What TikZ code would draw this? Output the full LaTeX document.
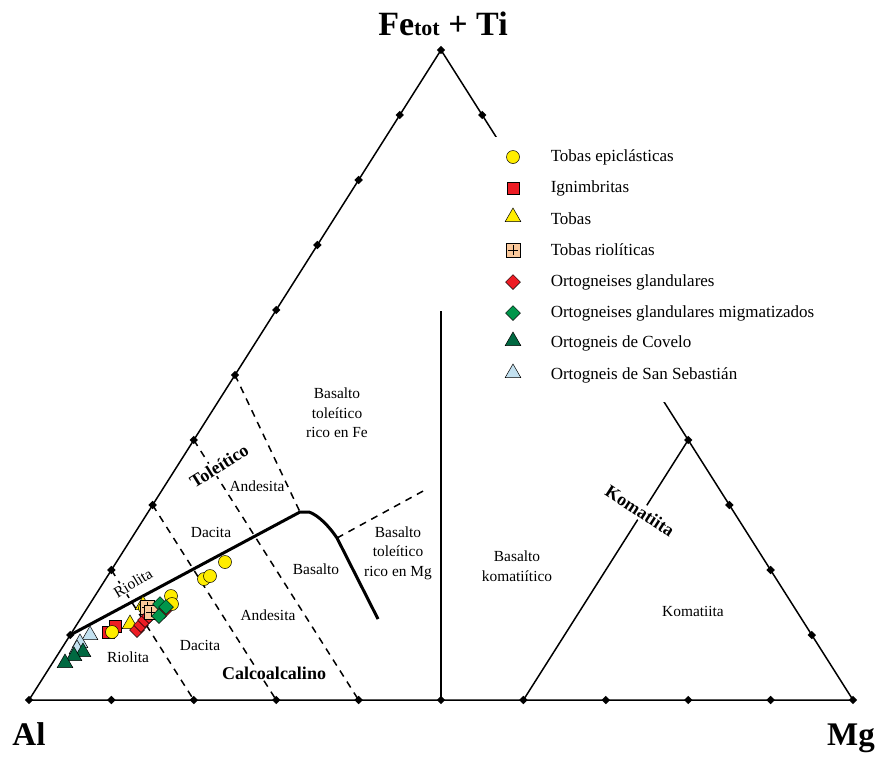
\documentclass[tikz,border=0pt]{standalone}
\usepackage{fontspec}
\setmainfont{Liberation Serif}
\usetikzlibrary{shapes.geometric}
\definecolor{tepyellow}{RGB}{255,237,0}
\definecolor{ignred}{RGB}{237,28,36}
\definecolor{peach}{RGB}{250,200,155}
\definecolor{ogmgreen}{RGB}{0,150,75}
\definecolor{ocvgreen}{RGB}{0,105,65}
\definecolor{osslblue}{RGB}{195,225,240}

\begin{document}
\begin{tikzpicture}[x=1pt, y=-1pt, line width=1.5pt,
  vtx/.style = {diamond, fill, inner sep=0pt, minimum size=9pt},
  lab/.style = {font=\fontsize{15.4}{19.5}\selectfont, align=center, inner sep=1pt},
  blab/.style = {font=\fontsize{18}{20}\selectfont\bfseries, inner sep=1pt},
  legtxt/.style = {anchor=west, inner sep=0pt, font=\fontsize{17}{19}\selectfont},
  mk/.style = {draw, line width=0.5pt, inner sep=0pt},
  tep/.style = {mk, circle, fill=tepyellow, minimum size=13pt},
  ign/.style = {mk, rectangle, fill=ignred, minimum size=12.5pt},
  tob/.style = {mk, regular polygon, regular polygon sides=3, fill=tepyellow, minimum size=18pt},
  trio/.style = {mk, rectangle, fill=peach, minimum size=14pt,
    path picture={\draw[line width=0.6pt] (path picture bounding box.center) ++(0,-5pt) -- ++(0,10pt)
      (path picture bounding box.center) ++(-5pt,0) -- ++(10pt,0);}},
  ogl/.style = {mk, diamond, fill=ignred, minimum size=15pt},
  ogm/.style = {mk, diamond, fill=ogmgreen, minimum size=15pt},
  ocv/.style = {mk, regular polygon, regular polygon sides=3, fill=ocvgreen, minimum size=18pt},
  oss/.style = {mk, regular polygon, regular polygon sides=3, fill=osslblue, minimum size=18pt},
  fieldline/.style = {dash pattern=on 7pt off 6pt},
  bound/.style = {line width=3pt, line join=round}]
  \useasboundingbox (0,0) rectangle (879,756);

  % vertices and ticks
  \node[vtx] (al) at (29,700) {};
  \node[vtx] (fe) at (441,50) {};
  \node[vtx] (mg) at (853,700) {};
  \node[vtx] (l1) at (70.2,635) {};
  \node[vtx] (l2) at (111.4,570) {};
  \node[vtx] (l3) at (152.6,505) {};
  \node[vtx] (l4) at (193.8,440) {};
  \node[vtx] (l5) at (235,375) {};
  \node[vtx] (l6) at (276.2,310) {};
  \node[vtx] (l7) at (317.4,245) {};
  \node[vtx] (l8) at (358.6,180) {};
  \node[vtx] (l9) at (399.8,115) {};
  \node[vtx] (r1) at (482.2,115) {};
  \node[vtx] (r2) at (523.4,180) {};
  \node[vtx] (r3) at (564.6,245) {};
  \node[vtx] (r4) at (605.8,310) {};
  \node[vtx] (r5) at (647,375) {};
  \node[vtx] (r6) at (688.2,440) {};
  \node[vtx] (r7) at (729.4,505) {};
  \node[vtx] (r8) at (770.6,570) {};
  \node[vtx] (r9) at (811.8,635) {};
  \node[vtx] (b1) at (111.4,700) {};
  \node[vtx] (b2) at (193.8,700) {};
  \node[vtx] (b3) at (276.2,700) {};
  \node[vtx] (b4) at (358.6,700) {};
  \node[vtx] (b5) at (441,700) {};
  \node[vtx] (b6) at (523.4,700) {};
  \node[vtx] (b7) at (605.8,700) {};
  \node[vtx] (b8) at (688.2,700) {};
  \node[vtx] (b9) at (770.6,700) {};
  \draw (al.center) -- (fe.center) -- (mg.center) -- cycle;

  % corner labels
  \node[anchor=base, font=\fontsize{34}{36}\selectfont\bfseries] (ttl) at (443,35)
    {Fe{\fontsize{22}{24}\selectfont tot} + Ti};
  \node[anchor=base, font=\fontsize{33}{36}\selectfont\bfseries] (lal) at (29,745) {Al};
  \node[anchor=base, font=\fontsize{33}{36}\selectfont\bfseries] (lmg) at (851,745) {Mg};

  % legend
  \fill[white] (493,137) rectangle (870,402);
  \node[tep] (ktep) at (513,157) {};
  \node[ign] (kign) at (513,188) {};
  \node[tob] (ktob) at (513,217) {};
  \node[trio] (ktrio) at (513,250) {};
  \node[ogl] (kogl) at (513,282) {};
  \node[ogm] (kogm) at (513,313) {};
  \node[ocv] (kocv) at (513,341) {};
  \node[oss] (koss) at (513,373) {};
  \node[legtxt] (ttep) at (550,157) {Tobas epiclásticas};
  \node[legtxt] (tign) at (550,188) {Ignimbritas};
  \node[legtxt] (ttob) at (550,219) {Tobas};
  \node[legtxt] (ttrio) at (550,250) {Tobas riolíticas};
  \node[legtxt] (togl) at (550,282) {Ortogneises glandulares};
  \node[legtxt] (togm) at (550,313) {Ortogneises glandulares migmatizados};
  \node[legtxt] (tocv) at (550,343) {Ortogneis de Covelo};
  \node[legtxt] (toss) at (550,375) {Ortogneis de San Sebastián};

  % field boundaries
  \coordinate (ta) at (300,512);
  \coordinate (tm) at (337,538);
  \coordinate (te) at (425,490);
  \coordinate (vt) at (441,311);
  \draw[bound] (l1.center) -- (ta) -- (309,512) .. controls (318,515) and (329,526) .. (tm) -- (378,619);
  \draw[fieldline] (l5.center) -- (ta);
  \draw[fieldline] (l4.center) -- (b4.center);
  \draw[fieldline] (l3.center) -- (b3.center);
  \draw[fieldline] (l2.center) -- (b2.center);
  \draw[fieldline] (tm) -- (te);
  \draw (b5.center) -- (vt);
  \draw (b6.center) -- (r6.center);

  % field names
  \node[blab, rotate=32, fill=white] (ntol) at (219,466) {Toleítico};
  \node[blab, fill=white] (ncal) at (274,673) {Calcoalcalino};
  \node[blab, rotate=-33, fill=white, inner sep=2pt] (nkom) at (640,511) {Komatiita};
  \node[lab, rotate=31, fill=white] (nrio1) at (133,583) {Riolita};
  \node[lab] (nbfe) at (337,413) {Basalto\\toleítico\\rico en Fe};
  \node[lab] (nand1) at (257,486) {Andesita};
  \node[lab] (ndac1) at (211,532) {Dacita};
  \node[lab] (nbas) at (316,569) {Basalto};
  \node[lab] (nbmg) at (398,553) {Basalto\\toleítico\\rico en Mg};
  \node[lab] (nand2) at (268,615) {Andesita};
  \node[lab] (ndac2) at (200,645) {Dacita};
  \node[lab] (nrio2) at (128,657) {Riolita};
  \node[lab] (nbko) at (517,566) {Basalto\\komatiítico};
  \node[lab] (nkomi) at (693,611) {Komatiita};

  % samples
  \node[oss] (s1) at (90,635) {};
  \node[oss] (s2) at (80,643) {};
  \node[oss] (s3) at (77,649) {};
  \node[ocv] (c1) at (83,652) {};
  \node[ocv] (c2) at (74,656) {};
  \node[ocv] (c3) at (65,663) {};
  \node[ign] (i1) at (115,626) {};
  \node[ign] (i2) at (108,632) {};
  \node[tep] (e1) at (112,632) {};
  \node[tob] (b01) at (130,624) {};
  \node[tob] (b02) at (143,605) {};
  \node[tep] (e2) at (145,608) {};
  \node[trio] (q1) at (147,607) {};
  \node[ogl] (g1) at (137,630) {};
  \node[ogl] (g2) at (141,625) {};
  \node[ogl] (g3) at (145,620) {};
  \node[ogl] (g4) at (149,616) {};
  \node[trio] (q2) at (151,612) {};
  \node[tep] (e3) at (171,596) {};
  \node[tep] (e4) at (172,604) {};
  \node[ogm] (m1) at (160,604) {};
  \node[ogl] (g5) at (164,611) {};
  \node[ogm] (m2) at (166,607) {};
  \node[ogm] (m3) at (159,616) {};
  \node[tep] (e5) at (225,562) {};
  \node[tep] (e6) at (204,579) {};
  \node[tep] (e7) at (210,576) {};
\end{tikzpicture}
\end{document}
